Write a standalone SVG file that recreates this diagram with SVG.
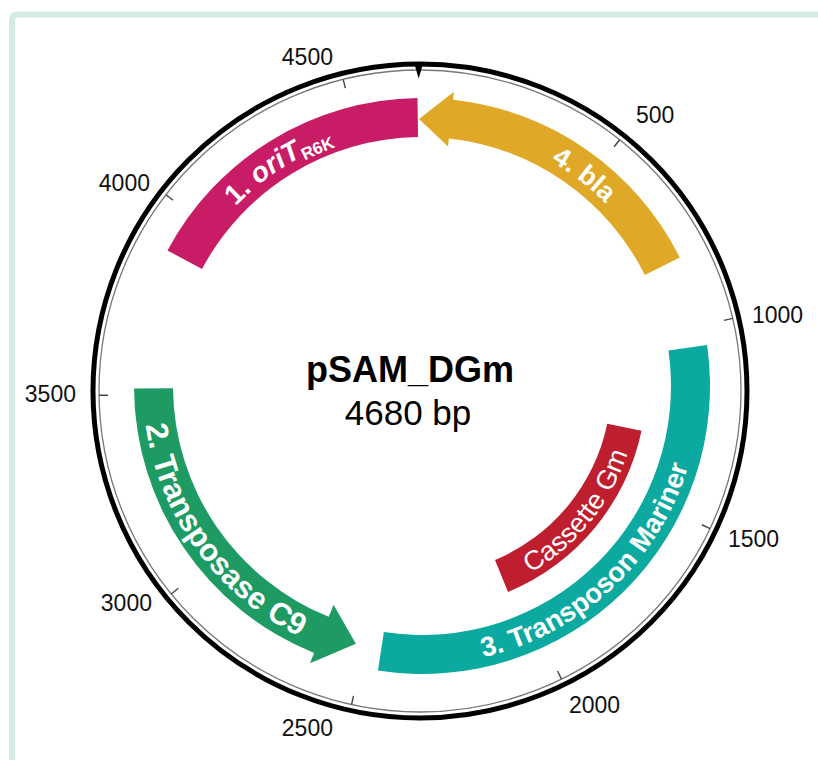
<svg xmlns="http://www.w3.org/2000/svg" width="818" height="760" viewBox="0 0 818 760">
<style>
.frame{fill:none;stroke:#d3ebe5;stroke-width:6}
.bb{fill:none;stroke:#000;stroke-width:5}
.bb2{fill:none;stroke:#777;stroke-width:1.3}
.tick{stroke:#444;stroke-width:1.4}
.num{font-family:"Liberation Sans",Arial,sans-serif;font-size:23px;fill:#111}
.lbl{font-family:"Liberation Sans",Arial,sans-serif;fill:#fff}
.title{font-family:"Liberation Sans",Arial,sans-serif;fill:#000;text-anchor:middle}
</style>
<defs>
<path id="pPink" d="M 174.32 310.28 A 259 259 0 0 1 453.56 128.93"/>
<path id="pGold" d="M 410.70 127.25 A 259 259 0 0 1 674.86 329.94"/>
<path id="pTeal" d="M 388.12 661.93 A 278 278 0 0 0 699.62 371.45"/>
<path id="pGreen" d="M 151.29 318.50 A 279 279 0 0 0 402.54 664.32"/>
<path id="pRed" d="M 425.77 602.27 A 216.3 216.3 0 0 0 634.33 344.73"/>
</defs>
<rect width="818" height="760" fill="#fff"/>
<rect class="frame" x="12" y="14.5" width="840" height="790" rx="5"/>
<g id="backbone">
<circle class="bb" cx="420" cy="391" r="327"/>
<circle class="bb2" cx="420" cy="391" r="321"/>
<polygon points="415,66 422.4,66 418.7,78.5" fill="#000"/>
<line class="tick" x1="619.70" y1="139.69" x2="614.10" y2="146.74"/>
<line class="tick" x1="732.68" y1="318.38" x2="723.91" y2="320.41"/>
<line class="tick" x1="710.01" y1="528.61" x2="701.88" y2="524.75"/>
<line class="tick" x1="561.48" y1="679.14" x2="557.52" y2="671.06"/>
<line class="tick" x1="351.58" y1="704.62" x2="353.49" y2="695.83"/>
<line class="tick" x1="171.32" y1="593.98" x2="178.29" y2="588.29"/>
<line class="tick" x1="99.03" y1="395.31" x2="108.03" y2="395.19"/>
<line class="tick" x1="165.98" y1="194.75" x2="173.10" y2="200.25"/>
<line class="tick" x1="343.18" y1="79.33" x2="345.33" y2="88.07"/>
<text class="num" x="636" y="123">500</text>
<text class="num" x="752" y="323">1000</text>
<text class="num" x="728" y="547">1500</text>
<text class="num" x="569" y="713">2000</text>
<text class="num" x="333" y="736" text-anchor="end">2500</text>
<text class="num" x="152" y="611" text-anchor="end">3000</text>
<text class="num" x="76" y="402" text-anchor="end">3500</text>
<text class="num" x="150" y="191" text-anchor="end">4000</text>
<text class="num" x="333" y="65" text-anchor="end">4500</text>
</g>
<g id="feature-oriT">
<path fill="#c81d66" d="M 167.5 250.5 A 288 288 0 0 1 417.48 98.03 L 418.09 137.03 A 249 249 0 0 0 202 269 Z"/>
<text class="lbl" font-size="28" font-weight="bold"><textPath href="#pPink" startOffset="50%" text-anchor="middle">1. <tspan font-style="italic">oriT</tspan><tspan font-size="17" dy="5">R6K</tspan></textPath></text>
</g>
<g id="feature-bla">
<path fill="#dfa826" d="M 679.74 257.49 A 288 288 0 0 0 453.10 99.68 L 453.97 91.73 L 419 119 L 448.03 146.41 L 448.89 138.46 A 249 249 0 0 1 644.84 274.90 Z"/>
<text class="lbl" font-size="27" font-weight="bold"><textPath href="#pGold" startOffset="50%" text-anchor="middle">4. bla</textPath></text>
</g>
<g id="feature-mariner">
<path fill="#0ba99f" d="M 707.06 344.92 A 288 288 0 0 1 377.94 670.61 L 383.91 632.07 A 249 249 0 0 0 668.45 350.49 Z"/>
<text class="lbl" font-size="27.5" font-weight="bold"><textPath href="#pTeal" startOffset="50%" text-anchor="middle">3. Transposon Mariner</textPath></text>
</g>
<g id="feature-transposase">
<path fill="#1e9a63" d="M 134.01 388.51 L 173.01 388.17 A 249 249 0 0 0 328.72 616.87 L 333.59 604.81 L 355.85 643.64 L 309.99 663.23 L 314.11 653.03 A 288 288 0 0 1 134.01 388.51 Z"/>
<text class="lbl" font-size="31" font-weight="bold"><textPath href="#pGreen" startOffset="50%" text-anchor="middle">2. Transposase C9</textPath></text>
</g>
<g id="feature-gm">
<path fill="#be1e2d" d="M 641.50 430.66 A 224 224 0 0 1 508 592 L 495 560 A 189 189 0 0 0 607.2 423.7 Z"/>
<text class="lbl" font-size="27"><textPath href="#pRed" startOffset="50%" text-anchor="middle">Cassette Gm</textPath></text>
</g>
<g id="title">
<text class="title" x="410" y="382" font-size="36" font-weight="bold">pSAM_DGm</text>
<text class="title" x="408" y="425" font-size="35">4680 bp</text>
</g>
<g id="connectors"/>
</svg>
